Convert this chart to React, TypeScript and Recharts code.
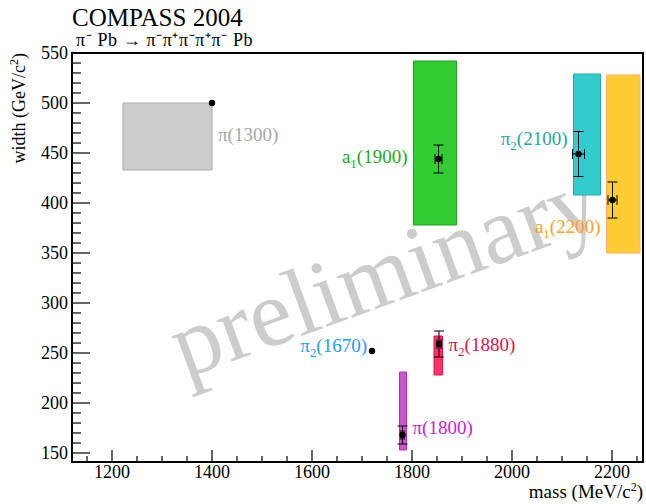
import React from "react";
import {
  ErrorBar,
  Label,
  ReferenceArea,
  ReferenceDot,
  Scatter,
  ScatterChart,
  XAxis,
  YAxis,
} from "recharts";

// Resonances measured by COMPASS (points) and their PDG mass/width bands (boxes).
const NAMES = ["π(1300)", "a_1(1900)", "π_2(2100)", "a_1(2200)", "π_2(1670)", "π_2(1880)", "π(1800)"];
const MASS = [1400, 1853, 2133, 2201, 1720, 1854, 1781];
const WIDTH = [500, 444, 449, 403, 252, 259, 168];
const MASS_ERR = [0, 7, 12, 9, 0, 4, 3];
const WIDTH_ERR = [0, 14, 22.5, 18, 0, 13, 9];

// PDG bands; null where there is none drawn
const BAND_MASS_LO = [1222, 1803, 2123, 2189, null, 1844, 1775];
const BAND_MASS_HI = [1400, 1889, 2177, 2256, null, 1861, 1789];
const BAND_WIDTH_LO = [433, 378, 408, 350, null, 228, 153];
const BAND_WIDTH_HI = [500, 542, 529, 528, null, 267, 231];

const X_LABELS = [1200, 1400, 1600, 1800, 2000, 2200];
const Y_LABELS = [150, 200, 250, 300, 350, 400, 450, 500, 550];

const X_DOMAIN: [number, number] = [1120, 2262];
const Y_DOMAIN: [number, number] = [141, 550];

const FONT = '"Liberation Serif", "Times New Roman", serif';

const BAND_FILL = ["#cccccc", "#33cc33", "#33cccc", "#ffcc33", "none", "#ff3366", "#cc55cc"];
const BAND_STROKE = ["#aaaaaa", "#22a022", "#22aaaa", "#ffb060", "none", "#d61650", "#b030b0"];
const LABEL_COLOR = ["#a8a8a8", "#22aa22", "#1fa5a5", "#ffa020", "#1a9cff", "#dd1144", "#cc22cc"];
// which side of the band the name sits on, and its baseline offset from the point (px)
const LABEL_SIDE = ["right", "left", "left", "left", "left", "right", "right"];
const LABEL_DY = [38, 4, -9, 33, 1, 7, -1];

const xMinor: number[] = [];
for (let v = 1150; v <= 2250; v += 50) xMinor.push(v);
const yMinor: number[] = [];
for (let v = 150; v <= 550; v += 10) yMinor.push(v);

const points = NAMES.map((name, i) => ({
  name,
  mass: MASS[i],
  width: WIDTH[i],
  ex: MASS_ERR[i],
  ey: WIDTH_ERR[i],
}));
const measured = points.filter((p) => p.ey > 0);
const bare = points.filter((p) => p.ey === 0);

function Name({ text }: { text: string }) {
  const [head, rest] = text.split("_");
  if (rest === undefined) return <tspan>{text}</tspan>;
  return (
    <>
      <tspan>{head}</tspan>
      <tspan dy={5} fontSize={13}>{rest[0]}</tspan>
      <tspan dy={-5}>{rest.slice(1)}</tspan>
    </>
  );
}

function XTick(props: any) {
  const { x, y, payload } = props;
  const v = payload.value;
  const major = X_LABELS.includes(v);
  return (
    <g>
      <line x1={x} x2={x} y1={y} y2={y - (major ? 12 : 6)} stroke="#000" strokeWidth={1.2} />
      {major && (
        <text x={x} y={y + 16} textAnchor="middle" fontFamily={FONT} fontSize={18} fill="#000">
          {v}
        </text>
      )}
    </g>
  );
}

function YTick(props: any) {
  const { x, y, payload } = props;
  const v = payload.value;
  const major = Y_LABELS.includes(v);
  return (
    <g>
      <line x1={x} x2={x + (major ? 18 : 9)} y1={y} y2={y} stroke="#000" strokeWidth={1.2} />
      {major && (
        <text x={x - 4} y={y} dy="0.35em" textAnchor="end" fontFamily={FONT} fontSize={18} fill="#000">
          {v}
        </text>
      )}
    </g>
  );
}

const dot = (p: any) => <circle cx={p.cx} cy={p.cy} r={3.2} fill="#000" />;

export default function App() {
  return (
    <div style={{ position: "absolute", left: 0, top: 0, width: 646, height: 504, background: "#fff" }}>
      <svg width={646} height={504} style={{ position: "absolute", left: 0, top: 0 }}>
        <text x={72} y={26} fontFamily={FONT} fontSize={25} fill="#000">
          COMPASS 2004
        </text>
        <text x={76} y={46} fontFamily={FONT} fontSize={18} letterSpacing={0.6} fill="#000">
          π⁻ Pb → π⁻π⁺π⁻π⁺π⁻ Pb
        </text>
        <text
          x={395}
          y={302}
          textAnchor="middle"
          transform="rotate(-20 395 302)"
          fontFamily={FONT}
          fontSize={96}
          fill="#cccccc"
        >
          preliminary
        </text>
      </svg>
      <div style={{ position: "absolute", left: 0, top: 0 }}>
        <ScatterChart width={646} height={504} margin={{ top: 53, right: 3, bottom: 0, left: 0 }}>
          <XAxis
            type="number"
            dataKey="mass"
            domain={X_DOMAIN}
            allowDataOverflow
            ticks={xMinor}
            interval={0}
            tick={<XTick />}
            tickLine={false}
            tickSize={0}
            tickMargin={0}
            axisLine={false}
            height={42}
          >
            <Label
              content={({ viewBox }: any) => (
                <text
                  x={viewBox.x + viewBox.width}
                  y={viewBox.y + 36}
                  textAnchor="end"
                  fontFamily={FONT}
                  fontSize={19}
                  fill="#000"
                >
                  mass (MeV/c<tspan dy={-7} fontSize={12}>2</tspan>
                  <tspan dy={7}>)</tspan>
                </text>
              )}
            />
          </XAxis>
          <YAxis
            type="number"
            dataKey="width"
            domain={Y_DOMAIN}
            allowDataOverflow
            ticks={yMinor}
            interval={0}
            tick={<YTick />}
            tickLine={false}
            tickSize={0}
            tickMargin={0}
            axisLine={false}
            width={72}
          >
            <Label
              content={({ viewBox }: any) => (
                <text
                  x={viewBox.x + 25}
                  y={viewBox.y}
                  textAnchor="end"
                  transform={`rotate(-90 ${viewBox.x + 25} ${viewBox.y})`}
                  fontFamily={FONT}
                  fontSize={18}
                  fill="#000"
                >
                  width (GeV/c<tspan dy={-7} fontSize={12}>2</tspan>
                  <tspan dy={7}>)</tspan>
                </text>
              )}
            />
          </YAxis>

          {NAMES.map((n, i) =>
            BAND_MASS_LO[i] === null ? null : (
              <ReferenceArea
                key={`band-${n}`}
                x1={BAND_MASS_LO[i] as number}
                x2={BAND_MASS_HI[i] as number}
                y1={BAND_WIDTH_LO[i] as number}
                y2={BAND_WIDTH_HI[i] as number}
                fill={BAND_FILL[i]}
                fillOpacity={1}
                stroke={BAND_STROKE[i]}
                strokeWidth={1}
              />
            )
          )}

          <Scatter data={measured} shape={dot} isAnimationActive={false}>
            <ErrorBar dataKey="ey" direction="y" width={5} stroke="#000" strokeWidth={1} isAnimationActive={false} />
            <ErrorBar dataKey="ex" direction="x" width={5} stroke="#000" strokeWidth={1} isAnimationActive={false} />
          </Scatter>
          <Scatter data={bare} shape={dot} isAnimationActive={false} />

          {NAMES.map((n, i) => {
            const right = LABEL_SIDE[i] === "right";
            const edge = right ? BAND_MASS_HI[i] : BAND_MASS_LO[i];
            const gap = edge === null ? 5 : 6;
            return (
              <ReferenceDot
                key={`label-${n}`}
                x={edge ?? MASS[i]}
                y={WIDTH[i]}
                r={0}
                shape={(p: any) => (
                  <text
                    x={p.cx + (right ? gap : -gap)}
                    y={p.cy + LABEL_DY[i]}
                    textAnchor={right ? "start" : "end"}
                    fontFamily={FONT}
                    fontSize={19}
                    fill={LABEL_COLOR[i]}
                  >
                    <Name text={n} />
                  </text>
                )}
              />
            );
          })}

          <ReferenceArea
            x1={X_DOMAIN[0]}
            x2={X_DOMAIN[1]}
            y1={Y_DOMAIN[0]}
            y2={Y_DOMAIN[1]}
            fill="none"
            stroke="#000"
            strokeWidth={2}
          />
        </ScatterChart>
      </div>
    </div>
  );
}
